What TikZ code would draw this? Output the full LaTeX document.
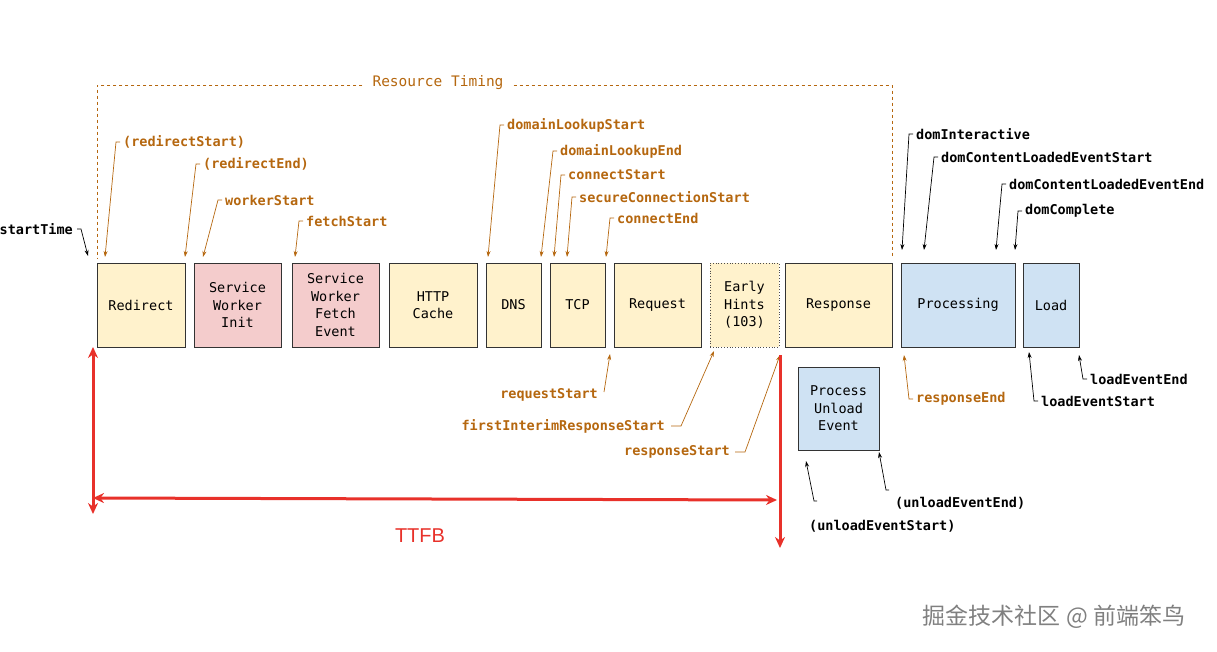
\documentclass[tikz,border=0pt]{standalone}
\usepackage{fontspec}
\setmainfont{Liberation Sans}
\setmonofont{DejaVu Sans Mono}
\newfontfamily\cjk{Noto Sans CJK SC}
\usetikzlibrary{arrows.meta}
\definecolor{rtorange}{HTML}{B5670F}
\definecolor{boxyellow}{HTML}{FFF2CC}
\definecolor{boxpink}{HTML}{F4CCCC}
\definecolor{boxblue}{HTML}{CFE2F3}
\definecolor{ttfbred}{HTML}{E8312A}

\begin{document}
\begin{tikzpicture}[x=1pt,y=-1pt,
    phase/.style={draw=black!80, line width=0.8pt, align=center, inner sep=0pt,
        font=\ttfamily\fontsize{13.5}{17.5}\selectfont},
    stamp/.style={font=\ttfamily\bfseries\fontsize{13.5}{15}\selectfont, inner sep=0pt, text=rtorange},
    lead/.style={draw=rtorange, line width=0.7pt, -{Stealth[length=6pt,width=4pt]}},
    blead/.style={draw=black, line width=0.7pt, -{Stealth[length=6pt,width=4pt]}},
    ttfb/.style={draw=ttfbred, line width=3pt, -{Stealth[length=11pt,width=10pt]}}
    ]
    \useasboundingbox (0,0) rectangle (1217,651);

    % phases
    \foreach \name/\xa/\xb/\col/\txt in {
        redir/97/185/boxyellow/Redirect,
        swinit/194/281/boxpink/{Service\\Worker\\Init},
        swfetch/292/379/boxpink/{Service\\Worker\\Fetch\\Event},
        cache/389/477/boxyellow/{HTTP\\Cache},
        dns/486/541/boxyellow/DNS,
        tcp/550/605/boxyellow/TCP,
        req/614/701/boxyellow/Request,
        resp/785/892/boxyellow/Response,
        proc/901/1015/boxblue/Processing,
        load/1023/1079/boxblue/Load} {
        \node[phase, fill=\col, minimum width=\xb-\xa, minimum height=84] (\name) at ({(\xa+\xb)/2},305) {\txt};
    }
    \node[phase, fill=boxyellow, draw=black!70, dotted, minimum width=69, minimum height=84] (hints) at (744.5,305) {Early\\Hints\\(103)};
    \node[phase, fill=boxblue, minimum width=81, minimum height=83] (unload) at (838.5,408.5) {Process\\Unload\\Event};

    % resource timing frame
    \node[font=\ttfamily\fontsize{14.5}{16}\selectfont, text=rtorange, inner sep=0pt] (rt) at (438,83) {Resource Timing};
    \draw[rtorange, dashed, line width=0.6pt] ([xshift=-10]rt.west |- 0,85) -| (97,258);
    \draw[rtorange, dashed, line width=0.6pt] ([xshift=10]rt.east |- 0,85) -| (892,258);

    % marks above, hooked on the left
    \foreach \name/\tx/\lx/\ly/\txt in {
        rs/105/123/142/(redirectStart),
        re/185/203/164/(redirectEnd),
        ws/203/225/200/workerStart,
        fs/295/306/221/fetchStart,
        dls/488/507/125/domainLookupStart,
        dle/541/560/151/domainLookupEnd,
        cs/554/568/175/connectStart,
        scs/567/579/197/secureConnectionStart,
        ce/606/617/218/connectEnd} {
        \node[stamp, anchor=west] (\name) at (\lx,\ly) {\txt};
        \coordinate (\name tip) at (\tx,257);
        \draw[lead] ([xshift=-3]\name.west) -- ++(-4,0) -- (\name tip);
    }
    \foreach \name/\tx/\lx/\ly/\txt in {
        di/902/916/134/domInteractive,
        dcs/924/941/157/domContentLoadedEventStart,
        dce/996/1009/184/domContentLoadedEventEnd,
        dc/1015/1025/211/domComplete} {
        \node[stamp, anchor=west, text=black] (\name) at (\lx,\ly) {\txt};
        \coordinate (\name tip) at (\tx,250);
        \draw[blead] ([xshift=-3]\name.west) -- ++(-4,0) -- (\name tip);
    }
    \node[stamp, anchor=east, text=black] (st) at (73,229) {startTime};
    \coordinate (sttip) at (88,256);
    \draw[blead] ([xshift=4]st.east) -- ++(4,0) -- (sttip);

    % marks below
    \node[stamp, anchor=east] (rqs) at (598,395) {requestStart};
    \draw[lead] ([xshift=6,yshift=3]rqs.east) -- (610,354);
    \node[stamp, anchor=east] (firs) at (665,426) {firstInterimResponseStart};
    \draw[lead] ([xshift=6]firs.east) -- ++(10,0) -- (714,351);
    \node[stamp, anchor=east] (rss) at (730,452) {responseStart};
    \draw[lead] ([xshift=5]rss.east) -- ++(10,0) -- (780,355);
    \node[stamp, anchor=west] (rse) at (916,399) {responseEnd};
    \draw[lead] ([xshift=-3]rse.west) -- ++(-4,0) -- (904,355);
    \node[stamp, anchor=west, text=black] (les) at (1041,401) {loadEventStart};
    \draw[blead] ([xshift=-3]les.west) -- ++(-4,0) -- (1029,352);
    \node[stamp, anchor=west, text=black] (lee) at (1090,379) {loadEventEnd};
    \draw[blead] ([xshift=-3]lee.west) -- ++(-4,0) -- (1079,355);
    \node[stamp, anchor=west, text=black] (ues) at (809,526) {(unloadEventStart)};
    \draw[blead] (817,501) -- ++(-3,0) -- (806,461);
    \node[stamp, anchor=west, text=black] (uee) at (895,503) {(unloadEventEnd)};
    \draw[blead] (889,490) -- ++(-3,0) -- (879,452);

    % TTFB
    \coordinate (ta) at (93,347);
    \coordinate (tb) at (93,514);
    \draw[ttfb, {Stealth[length=11pt,width=10pt]}-{Stealth[length=11pt,width=10pt]}] (ta) -- (tb);
    \draw[ttfb, {Stealth[length=11pt,width=10pt]}-{Stealth[length=11pt,width=10pt]}] (93,498) -- (777,500);
    \draw[ttfb] (780,355) -- (780,548);
    \node[text=ttfbred, font=\fontsize{20}{22}\selectfont, inner sep=0pt] (ttfblbl) at (420,536) {TTFB};

    % watermark
    \node[text=black!50, font=\cjk\fontsize{23}{26}\selectfont, inner sep=0pt] (wm) at (1054,617) {掘金技术社区 @ 前端笨鸟};
\end{tikzpicture}
\end{document}
